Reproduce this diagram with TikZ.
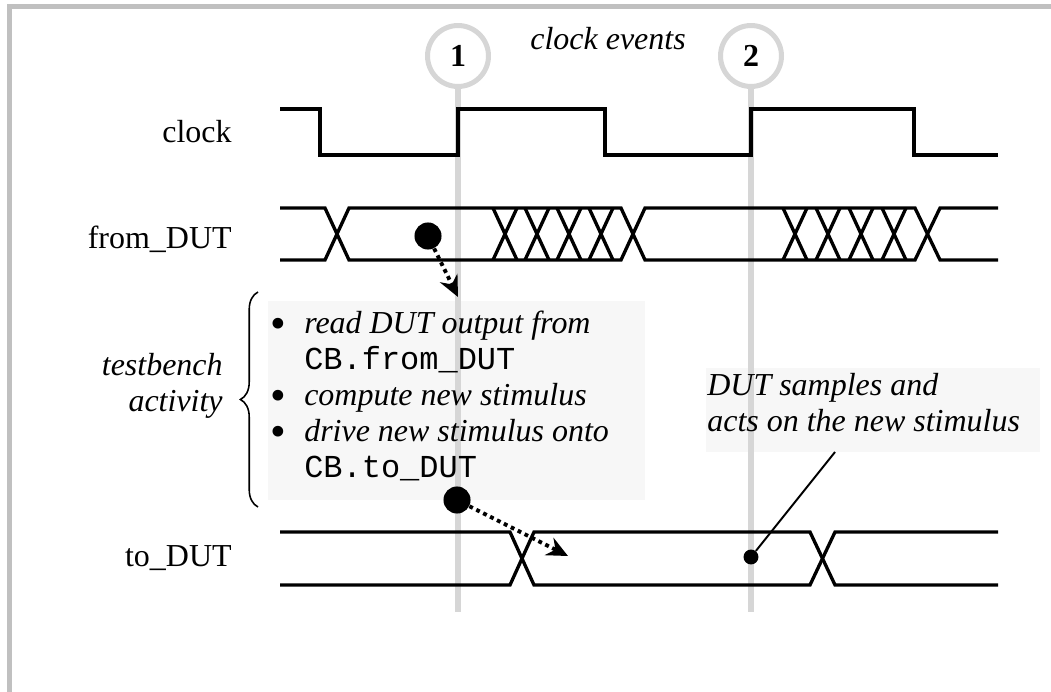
\documentclass[tikz,border=0pt]{standalone}
\usepackage{fontspec}
\setmainfont{Liberation Serif}
\setmonofont{Liberation Mono}
\usetikzlibrary{arrows.meta,decorations.pathreplacing}

\definecolor{framegray}{HTML}{C0C0C0}
\definecolor{eventgray}{HTML}{D6D6D6}
\definecolor{notefill}{HTML}{F7F7F7}
\newcommand{\figfont}{\fontsize{18.2}{20.5}\selectfont}
\newcommand{\tbitem}{\makebox[19.3pt][l]{\raisebox{-0.14em}{\scalebox{1.4}{\textbullet}}}}

\tikzset{
  wave/.style={line width=1.9pt},
  evline/.style={draw=eventgray, line width=3.4pt},
  evcircle/.style={circle, draw=eventgray, line width=2.85pt, fill=white,
    minimum size=34.7pt, inner sep=0pt, font=\figfont\bfseries},
  bigdot/.style={circle, fill=black, minimum size=15.4pt, inner sep=0pt},
  smalldot/.style={circle, fill=black, minimum size=8.5pt, inner sep=0pt},
  dotarrow/.style={line width=2.2pt, dash pattern=on 2.2pt off 2.2pt,
    -{Stealth[length=12pt,width=11pt,inset=4pt]}},
  notebox/.style={fill=notefill, inner sep=0pt, anchor=north west},
  lbl/.style={inner sep=0pt},
  tbbrace/.style={decorate, decoration={brace, amplitude=10pt}, line width=0.9pt},
}

\begin{document}
\begin{tikzpicture}[x=0.02cm, y=-0.02cm, font=\figfont]
    \useasboundingbox (0,0) rectangle (1051,692);
    % frame (top and left edge only)
    \draw[draw=framegray, line width=2.85pt] (9.5,692) -- (9.5,6.5) -- (1051,6.5);

    % shaded note boxes
    \node[notebox, minimum width=214.5pt, minimum height=113.2pt] (tbbox) at (268,301) {};
    \node[notebox, minimum width=190pt, minimum height=47.8pt] (dsbox) at (706,368) {};

    % clock events
    \node[evcircle] (ev1) at (458,56) {1};
    \node[evcircle] (ev2) at (751,56) {2};
    \coordinate (ev1end) at (458,612);
    \coordinate (ev2end) at (751,612);
    \draw[evline] (ev1) -- (ev1end);
    \draw[evline] (ev2) -- (ev2end);
    \node[lbl, anchor=base west, font=\figfont\itshape] (evtitle) at (530,50) {clock events};

    % clock
    \draw[wave] (280,109) -- (320,109) -- (320,155) -- (458,155) -- (458,109) -- (605,109)
        -- (605,155) -- (751,155) -- (751,109) -- (914,109) -- (914,155) -- (998,155);

    % from_DUT
    \draw[wave] (280,208) -- (325,208) -- (349,260) -- (621,260) -- (645,208) -- (915,208) -- (940,260) -- (998,260);
    \draw[wave] (280,260) -- (325,260) -- (349,208) -- (621,208) -- (645,260) -- (915,260) -- (940,208) -- (998,208);
    \foreach \xc in {505,537,569,601,795,828,861,894}
        \draw[wave] (\xc-12,208) -- (\xc+12,260) (\xc-12,260) -- (\xc+12,208);

    % to_DUT
    \draw[wave] (280,532) -- (510,532) -- (534,585) -- (810,585) -- (835,532) -- (998,532);
    \draw[wave] (280,585) -- (510,585) -- (534,532) -- (810,532) -- (835,585) -- (998,585);

    % signal names
    \node[lbl, anchor=base east] (clklbl) at (232,143) {clock};
    \node[lbl, anchor=base east] (fromlbl) at (232,249) {from\_DUT};
    \node[lbl, anchor=base east] (tolbl) at (232,566) {to\_DUT};

    % testbench activity
    \draw[tbbrace] (258,507) -- (258,292);
    \node[lbl, anchor=east, align=right, font=\figfont\itshape] (tblbl) at (223,386) {testbench\\activity};
    \node[lbl, anchor=north west, align=left] (tbtext) at (270,311)
        {\tbitem\textit{read DUT output from}\\
         \hspace*{19.3pt}\texttt{CB.from\_DUT}\\
         \tbitem\textit{compute new stimulus}\\
         \tbitem\textit{drive new stimulus onto}\\
         \hspace*{19.3pt}\texttt{CB.to\_DUT}};
    \node[lbl, anchor=north west, align=left, font=\figfont\itshape] (dstext) at (707,373)
        {DUT samples and\\acts on the new stimulus};

    % sample points
    \node[bigdot] (rd) at (428,236) {};
    \coordinate (rdtip) at (458,297);
    \draw[dotarrow] (rd) -- (rdtip);
    \node[bigdot] (wr) at (457,500) {};
    \coordinate (wrtip) at (568,556);
    \draw[dotarrow] (wr) -- (wrtip);
    \node[smalldot] (ds) at (751,557) {};
    \coordinate (dstip) at (835,452);
    \draw[line width=1.1pt] (ds) -- (dstip);
\end{tikzpicture}
\end{document}
